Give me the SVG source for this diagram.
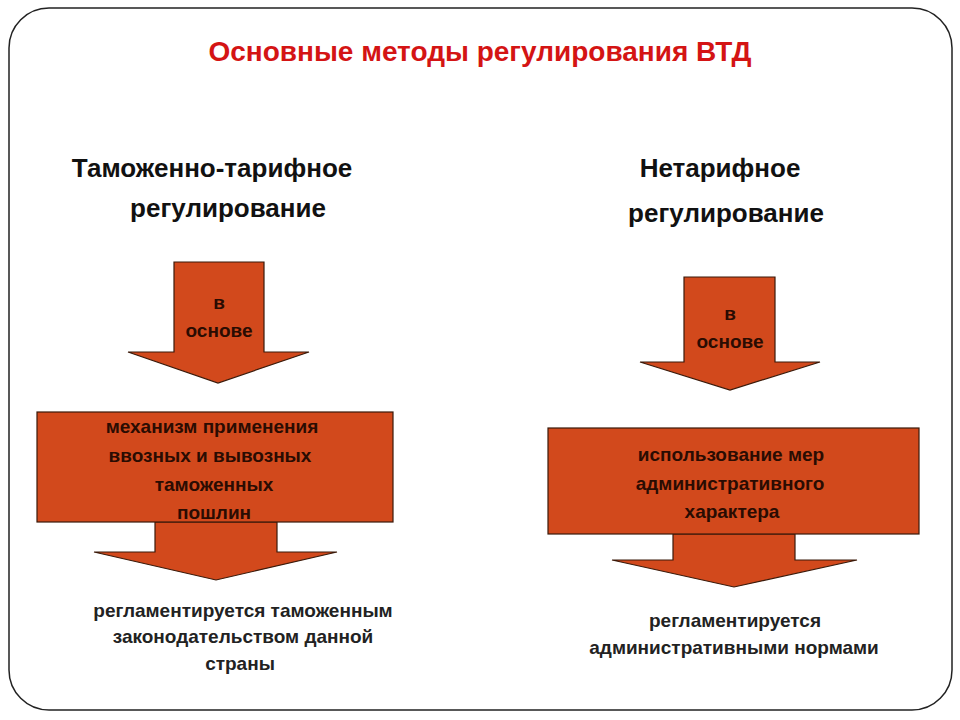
<svg xmlns="http://www.w3.org/2000/svg" width="960" height="720" viewBox="0 0 960 720">
<style>
.sh{fill:#D2491C;stroke:#3a1a0a;stroke-width:1.2}
.t{font-family:"Liberation Sans",Arial,sans-serif;font-weight:bold;text-anchor:middle}
.in{font-size:19px;fill:#2a0c02}
.hd{font-size:26px;fill:#111}
.bt{font-size:19px;fill:#222}
</style>
<rect x="0" y="0" width="960" height="720" fill="#fff"/>
<rect x="9" y="8" width="943" height="702" rx="40" ry="40" fill="none" stroke="#222" stroke-width="1.5"/>
<text class="t" x="480" y="61" font-size="28" fill="#D41414">Основные методы регулирования ВТД</text>
<text class="t hd" x="212" y="177">Таможенно-тарифное</text>
<text class="t hd" x="228" y="217">регулирование</text>
<text class="t hd" x="720" y="177">Нетарифное</text>
<text class="t hd" x="726" y="222">регулирование</text>
<g id="connectors">
<polygon class="sh" points="174,262 264,262 264,352 309,352 218,383 128,352 174,352"/>
<polygon class="sh" points="155,522 277,522 277,552 337,552 216,580 94,552 155,552"/>
<polygon class="sh" points="684,277 775,277 775,362 820,362 730,390 640,362 684,362"/>
<polygon class="sh" points="673,534 795,534 795,560 857,560 734,587 612,560 673,560"/>
</g>
<g id="n1"><text class="t in" x="219" y="309">в</text><text class="t in" x="219" y="337">основе</text></g>
<g id="n2"><rect class="sh" x="37" y="412" width="356" height="110"/>
<text class="t in" x="212" y="433">механизм применения</text>
<text class="t in" x="210" y="462">ввозных и вывозных</text>
<text class="t in" x="214" y="491">таможенных</text>
<text class="t in" x="214" y="519">пошлин</text></g>
<g id="n3"><text class="t in" x="730" y="320">в</text><text class="t in" x="730" y="348">основе</text></g>
<g id="n4"><rect class="sh" x="548" y="428" width="371" height="106"/>
<text class="t in" x="731" y="461">использование мер</text>
<text class="t in" x="730" y="490">административного</text>
<text class="t in" x="732" y="518">характера</text></g>
<g id="n5"><text class="t bt" x="243" y="617">регламентируется таможенным</text>
<text class="t bt" x="243" y="643">законодательством данной</text>
<text class="t bt" x="240" y="670">страны</text></g>
<g id="n6"><text class="t bt" x="735" y="627">регламентируется</text>
<text class="t bt" x="734" y="654">административными нормами</text></g>
</svg>
